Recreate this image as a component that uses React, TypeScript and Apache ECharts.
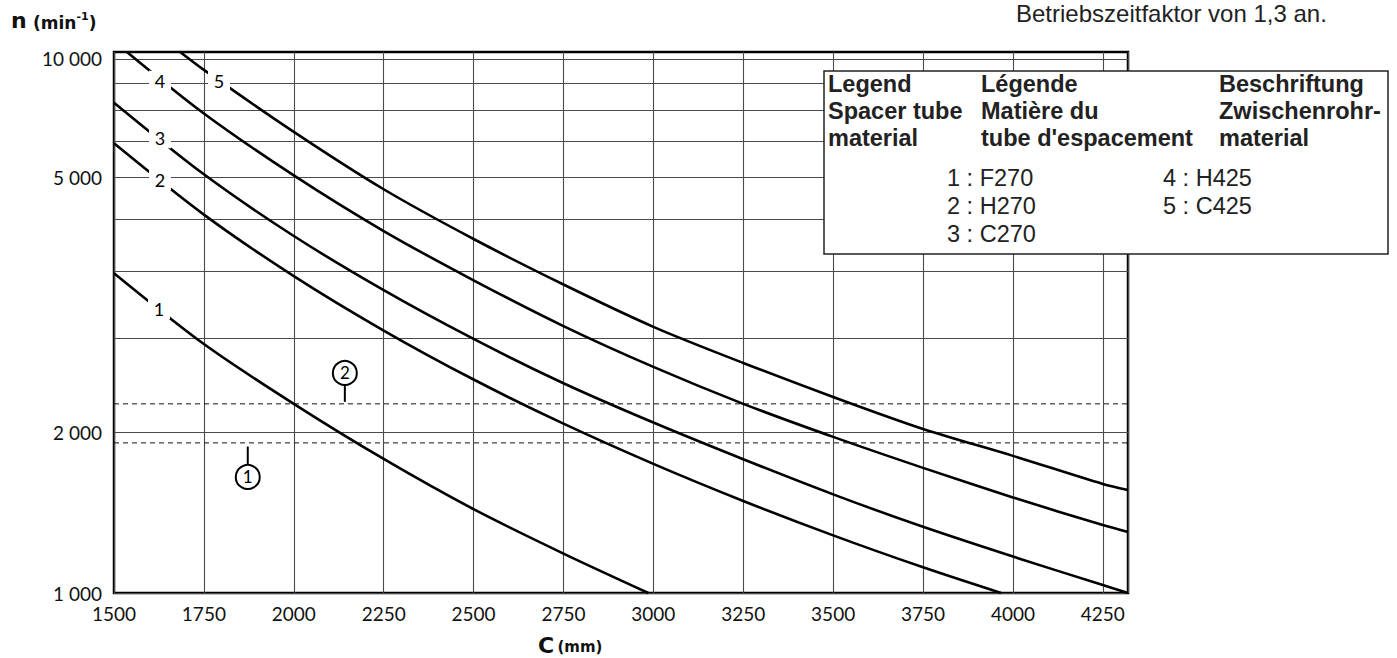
import React, { useEffect, useRef } from 'react';
import * as echarts from 'echarts';

// ---- data ----
const xMin = 1500;
const xMax = 4320;
const xInterval = 250;
const yMin = 1000;
const yMax = 10300;

const yGridValues = [1000, 2000, 3000, 4000, 5000, 6000, 7000, 8000, 9000, 10000];
const yLabelValues = [1000, 2000, 6000, 10000];
const yLabelTexts = ['1 000', '2 000', '5 000', '10 000'];

const curve1 = [[1500, 3970], [1750, 2925], [2000, 2260], [2250, 1782], [2500, 1435], [2750, 1185], [2986, 1000]];
const curve2 = [[1500, 6950], [1750, 5110], [2000, 3920], [2250, 3100], [2500, 2510], [2750, 2075], [3000, 1745], [3250, 1487], [3500, 1282], [3750, 1117], [3967, 1000]];
const curve3 = [[1500, 8280], [1750, 6080], [2000, 4660], [2250, 3690], [2500, 2990], [2750, 2470], [3000, 2085], [3250, 1780], [3500, 1530], [3750, 1330], [4000, 1170], [4250, 1035], [4320, 1000]];
const curve4 = [[1536, 10300], [1750, 7900], [2000, 6050], [2250, 4760], [2500, 3850], [2750, 3160], [3000, 2650], [3250, 2260], [3500, 1960], [3750, 1715], [4000, 1510], [4250, 1340], [4320, 1301]];
const curve5 = [[1684, 10300], [1750, 9535], [2000, 7300], [2250, 5700], [2500, 4600], [2750, 3780], [3000, 3150], [3250, 2696], [3500, 2328], [3750, 2028], [4000, 1806], [4250, 1600], [4320, 1559]];
const curves = [curve1, curve2, curve3, curve4, curve5];
const curveNames = ['1', '2', '3', '4', '5'];
const curveLabelCoords = [[1625, 3400], [1628, 5930], [1628, 7100], [1628, 9100], [1792, 9100]];

const refLineValues = [2260, 1910];
const refMarkerNames = ['2', '1'];
const refMarkerCoords = [[2142, 2582], [1872, 1649]];
const refMarkerTicks = [
  [[2142, 2452], [2142, 2280]],
  [[1872, 1880], [1872, 1737]],
];

const legendHeaders = [
  ['Legend', 'Spacer tube', 'material'],
  ['Légende', 'Matière du', "tube d'espacement"],
  ['Beschriftung', 'Zwischenrohr-', 'material'],
];
const legendItemsLeft = ['1 : F270', '2 : H270', '3 : C270'];
const legendItemsRight = ['4 : H425', '5 : C425'];
const noteText = 'Betriebszeitfaktor von 1,3 an.';

const TICK_FONT = 'Lato';
const TITLE_FONT = 'DejaVu Sans';
const LEG_FONT = 'Liberation Sans';

export default function App() {
  const ref = useRef<HTMLDivElement>(null);
  useEffect(() => {
    if (!ref.current) return;
    const chart = echarts.init(ref.current, undefined, { renderer: 'svg' });

    const series: any[] = [];
    curves.forEach((c, i) => {
      series.push({
        type: 'line',
        name: 'curve' + curveNames[i],
        data: c,
        symbol: 'none',
        smooth: 0.3,
        z: 3,
        lineStyle: { color: '#000', width: 2.6 },
        markPoint: {
          symbol: 'rect',
          symbolSize: [22, 20],
          itemStyle: { color: '#fff', borderWidth: 0 },
          label: {
            show: true,
            position: 'inside',
            formatter: (p: any) => p.name,
            color: '#000',
            fontSize: 18,
            fontFamily: TICK_FONT,
          },
          data: [{ name: curveNames[i], coord: curveLabelCoords[i] }],
        },
      });
    });
    refLineValues.forEach((v, i) => {
      series.push({
        type: 'line',
        name: 'ref' + i,
        data: [[xMin, v], [xMax, v]],
        symbol: 'none',
        z: 2,
        lineStyle: { color: '#111', width: 1, type: [5, 4] },
      });
    });
    refMarkerTicks.forEach((t, i) => {
      series.push({
        type: 'line',
        name: 'marker' + refMarkerNames[i],
        data: t,
        symbol: 'none',
        z: 4,
        lineStyle: { color: '#000', width: 2 },
        markPoint: {
          symbol: 'circle',
          symbolSize: 24,
          itemStyle: { color: '#fff', borderColor: '#000', borderWidth: 2 },
          label: {
            show: true,
            position: 'inside',
            formatter: (p: any) => p.name,
            color: '#000',
            fontSize: 17,
            fontFamily: TICK_FONT,
          },
          data: [{ name: refMarkerNames[i], coord: refMarkerCoords[i] }],
        },
      });
    });

    const graphic: any[] = [];
    graphic.push({
      type: 'text', x: 11, y: 20, z: 50,
      style: { text: 'n', fontSize: 22, fontWeight: 'bold', fontFamily: TITLE_FONT, fill: '#111', verticalAlign: 'middle' },
    });
    graphic.push({
      type: 'text', x: 33, y: 23, z: 50,
      style: {
        text: '{u|(min}{s|-1}{u|)}',
        fill: '#111',
        verticalAlign: 'middle',
        rich: {
          u: { fontSize: 17, fontWeight: 'bold', fontFamily: TITLE_FONT, fill: '#111', lineHeight: 24 },
          s: { fontSize: 11, fontWeight: 'bold', fontFamily: TITLE_FONT, fill: '#111', verticalAlign: 'top' },
        },
      },
    });
    graphic.push({
      type: 'text', x: 538, y: 645, z: 50,
      style: {
        text: '{c|C} {u|(mm)}',
        fill: '#111',
        verticalAlign: 'middle',
        rich: {
          c: { fontSize: 22, fontWeight: 'bold', fontFamily: TITLE_FONT, fill: '#111' },
          u: { fontSize: 15, fontWeight: 'bold', fontFamily: TITLE_FONT, fill: '#111', padding: [3, 0, 0, 0] },
        },
      },
    });
    graphic.push({
      type: 'text', x: 1016, y: 13, z: 50,
      style: { text: noteText, fontSize: 24, fontFamily: LEG_FONT, fill: '#222', verticalAlign: 'middle' },
    });
    graphic.push({
      type: 'rect', z: 100,
      shape: { x: 824, y: 71, width: 564, height: 183 },
      style: { fill: '#fff', stroke: '#222', lineWidth: 1.5 },
    });
    const colX = [828, 981, 1219];
    const rowY = [84, 111, 138];
    legendHeaders.forEach((col, ci) => {
      col.forEach((t, ri) => {
        graphic.push({
          type: 'text', x: colX[ci], y: rowY[ri], z: 101,
          style: { text: t, fontSize: 23.5, fontWeight: 'bold', fontFamily: LEG_FONT, fill: '#222', verticalAlign: 'middle' },
        });
      });
    });
    const itemY = [178, 206, 234];
    legendItemsLeft.forEach((t, i) => {
      graphic.push({
        type: 'text', x: 947, y: itemY[i], z: 101,
        style: { text: t, fontSize: 23.5, fontFamily: LEG_FONT, fill: '#222', verticalAlign: 'middle' },
      });
    });
    legendItemsRight.forEach((t, i) => {
      graphic.push({
        type: 'text', x: 1163, y: itemY[i], z: 101,
        style: { text: t, fontSize: 23.5, fontFamily: LEG_FONT, fill: '#222', verticalAlign: 'middle' },
      });
    });

    chart.setOption({
      animation: false,
      backgroundColor: '#fff',
      grid: {
        left: 114, top: 52, width: 1014, height: 541,
        show: true, borderColor: '#000', borderWidth: 2.5, backgroundColor: '#fff', containLabel: false,
      },
      xAxis: {
        type: 'value', min: xMin, max: xMax, interval: xInterval,
        axisLine: { show: false }, axisTick: { show: false },
        axisLabel: {
          margin: 11, fontSize: 19, fontFamily: TICK_FONT, color: '#111',
          formatter: (v: number) => (v % xInterval === 0 ? String(v) : ''),
        },
        splitLine: { show: true, lineStyle: { color: '#4a4a4a', width: 1.1 } },
      },
      yAxis: {
        type: 'log', logBase: 10, min: yMin, max: yMax,
        axisLine: { show: false },
        axisTick: { show: false, customValues: yGridValues },
        axisLabel: {
          customValues: yLabelValues,
          margin: 12, fontSize: 19, fontFamily: TICK_FONT, color: '#111',
          formatter: (v: number) => {
            const idx = yLabelValues.indexOf(Math.round(v));
            return idx >= 0 ? yLabelTexts[idx] : '';
          },
        },
        splitLine: { show: true, lineStyle: { color: '#4a4a4a', width: 1.1 } },
      },
      series,
      graphic,
    });
    return () => chart.dispose();
  }, []);
  return (
    <div
      ref={ref}
      style={{ position: 'fixed', left: 0, top: 0, width: 1397, height: 658, background: '#fff' }}
    />
  );
}
